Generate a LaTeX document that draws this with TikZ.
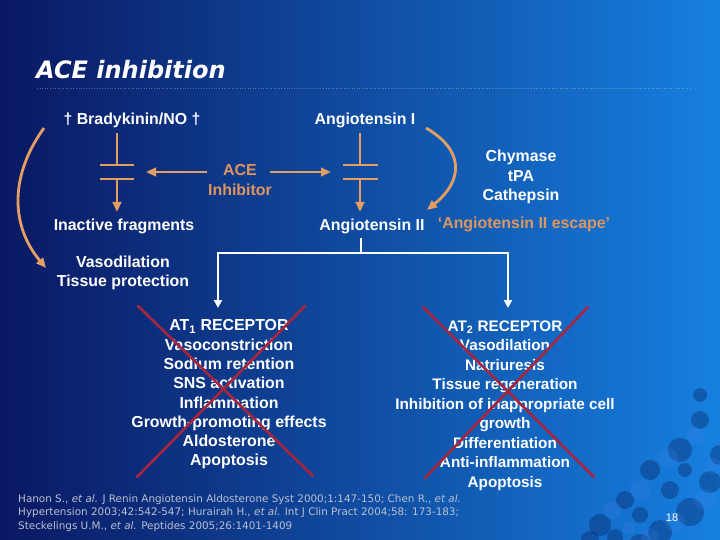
\documentclass[tikz,border=0pt]{standalone}
\usepackage{fontspec}
\setmainfont{Liberation Sans}
\newfontfamily\titlefont{DejaVu Sans}
\usetikzlibrary{arrows.meta}
\definecolor{bgL}{RGB}{10,24,98}
\definecolor{bgM}{RGB}{10,68,172}
\definecolor{bgR}{RGB}{22,128,224}
\definecolor{orng}{RGB}{228,158,100}
\definecolor{acecol}{RGB}{222,150,95}
\definecolor{xred}{RGB}{165,38,62}
\definecolor{footgray}{RGB}{185,192,210}
\definecolor{blobdark}{RGB}{8,28,88}
\definecolor{bloblight}{RGB}{70,130,235}
\begin{document}
\begin{tikzpicture}[x=1pt,y=-1pt,
  lab/.style={text=white, font=\bfseries\fontsize{15.9}{19.3}\selectfont, inner sep=0pt, align=center},
  olab/.style={lab, text=acecol},
  titlestyle/.style={text=white, font=\titlefont\bfseries\itshape\fontsize{24}{28}\selectfont, inner sep=0pt},
  oline/.style={draw=orng, line width=2.8pt},
  oarr/.style={oline, -{Triangle[length=10pt,width=8.5pt]}},
  wline/.style={draw=white, line width=2.8pt},
  warr/.style={wline, -{Triangle[length=8pt,width=8pt]}},
  xline/.style={draw=xred, line width=2.6pt, line cap=round},
  foot/.style={text=footgray, font=\titlefont\fontsize{10.4}{13.5}\selectfont, inner sep=0pt, align=left}]
\useasboundingbox (0,0) rectangle (720,540);
\shade[left color=bgL, middle color=bgM, right color=bgR] (0,0) rectangle (720,540);
% textured corner
\foreach \x/\y/\r in {600/525/11,625/500/9,650/470/10,680/450/12,700/420/9,710/482/11,690/512/14,660/532/12,640/515/8,700/395/7,670/490/9,615/537/8,720/455/10,685/470/7,590/540/9,640/545/11}
  \fill[blobdark, opacity=0.35] (\x,\y) circle (\r);
\foreach \x/\y/\r in {612/510/9,640/490/10,668/458/10,695/436/9,705/500/11,675/522/10,650/537/9,713/466/8,628/528/6}
  \fill[bloblight, opacity=0.2] (\x,\y) circle (\r);

% title
\node[titlestyle, anchor=west] (title) at (36,70) {ACE inhibition};
\draw[white, opacity=0.3, line width=0.6pt, dotted] (37,88) -- (690,88);

% labels
\node[lab] (brady) at (132,120) {† Bradykinin/NO †};
\node[lab] (ang1) at (365,120) {Angiotensin I};
\node[olab] (ace) at (240,180) {ACE\\Inhibitor};
\node[lab] (frag) at (124,226) {Inactive fragments};
\node[lab] (ang2) at (372,226) {Angiotensin II};
\node[lab] (vaso) at (123,273) {Vasodilation\\Tissue protection};
\node[lab] (enz) at (521,177) {Chymase\\tPA\\Cathepsin};
\node[olab] (esc) at (524,224) {‘Angiotensin II escape’};

% left blocked step
\coordinate (Lt) at (117,133);
\coordinate (Lp1) at (117,165);
\coordinate (Lp2) at (117,179);
\coordinate (Lb) at (117,212);
\draw[oline] (Lt) -- (Lp1);
\draw[oline] (100,165) -- (134,165);
\draw[oline] (100,179) -- (134,179);
\draw[oarr] (Lp2) -- (Lb);

% right blocked step
\coordinate (Rt) at (360,133);
\coordinate (Rp1) at (360,165);
\coordinate (Rp2) at (360,179);
\coordinate (Rb) at (360,212);
\draw[oline] (Rt) -- (Rp1);
\draw[oline] (343,165) -- (378,165);
\draw[oline] (343,179) -- (378,179);
\draw[oarr] (Rp2) -- (Rb);

% ACE inhibitor arrows
\coordinate (aceL) at (207,172);
\coordinate (aceR) at (270,172);
\coordinate (gapL) at (146,172);
\coordinate (gapR) at (331,172);
\draw[oarr] (aceL) -- (gapL);
\draw[oarr] (aceR) -- (gapR);

% curved arrows
\coordinate (c1s) at (44,128);
\coordinate (c1e) at (46,268);
\draw[oarr] (c1s) .. controls (10,175) and (10,225) .. (c1e);
\coordinate (c2s) at (426,128);
\coordinate (c2e) at (427,210);
\draw[oarr] (c2s) .. controls (464,150) and (464,180) .. (c2e);

% receptors
\node[lab, anchor=north] (at1) at (229,319.5) {AT\textsubscript{1} RECEPTOR\\Vasoconstriction\\Sodium retention\\SNS activation\\Inflammation\\Growth-promoting effects\\Aldosterone\\Apoptosis};
\node[lab, anchor=north, font=\bfseries\fontsize{15.3}{19.5}\selectfont] (at2) at (505,320.5) {AT\textsubscript{2} RECEPTOR\\Vasodilation\\Natriuresis\\Tissue regeneration\\Inhibition of inappropriate cell\\growth\\Differentiation\\Anti-inflammation\\Apoptosis};

% white branching connector
\coordinate (stub) at (361,238);
\coordinate (jn) at (361,253);
\coordinate (jl) at (218,253);
\coordinate (jr) at (508,253);
\coordinate (t1) at (218,308);
\coordinate (t2) at (508,308);
\draw[wline] (stub) -- (jn);
\draw[warr] (jn) -- (jl) -- (t1);
\draw[warr] (jn) -- (jr) -- (t2);

% red crosses
\draw[xline] (138,306) -- (313,476);
\draw[xline] (305,306) -- (137,477);
\draw[xline] (423,307) -- (594,477);
\draw[xline] (588,307) -- (425,478);

% footnote
\node[foot, anchor=north west] (ref) at (18,494) {Hanon S., \textit{et al.} J Renin Angiotensin Aldosterone Syst 2000;1:147-150; Chen R., \textit{et al.}\\Hypertension 2003;42:542-547; Hurairah H., \textit{et al.} Int J Clin Pract 2004;58: 173-183;\\Steckelings U.M., \textit{et al.} Peptides 2005;26:1401-1409};
\node[text=white, font=\fontsize{11}{13}\selectfont, inner sep=0pt] (pg) at (672,518) {18};
\end{tikzpicture}
\end{document}
